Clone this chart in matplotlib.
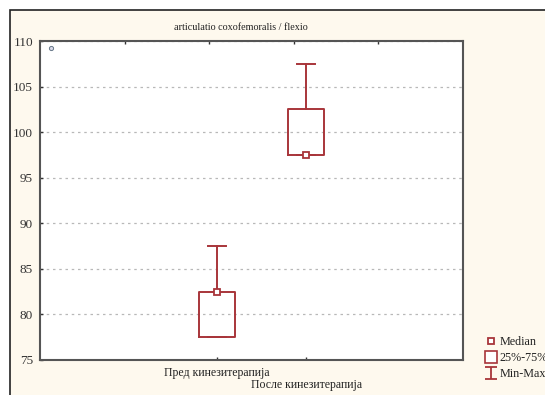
import matplotlib
matplotlib.use("Agg")
import matplotlib.pyplot as plt
from matplotlib.patches import Rectangle
from matplotlib.lines import Line2D
from matplotlib.path import Path

# ---- data ----
categories = ["Пред кинезитерапија", "После кинезитерапија"]
medians = [82.5, 97.5]
q1 = [77.5, 97.5]
q3 = [82.5, 102.5]
mins = [77.5, 97.5]
maxs = [87.5, 107.5]
stray_x = [-0.87]
stray_y = [109.2]
yticks = [75, 80, 85, 90, 95, 100, 105, 110]
title = "articulatio coxofemoralis / flexio"
legend_labels = ["Median", "25%-75%", "Min-Max"]

RED = "#A8353A"
CREAM = "#FEF9EE"
SERIF = ["Liberation Serif", "DejaVu Serif"]

fig = plt.figure(figsize=(5.45, 3.95), dpi=100, facecolor="white")
W, H = 545, 395

# outer cream panel with dark left/top border
panel = Rectangle((10 / W, -0.2), 1.3, 1 - 10 / H + 0.2, transform=fig.transFigure,
                  facecolor=CREAM, edgecolor="#222222", lw=1.2, zorder=-10)
fig.patches.append(panel)

ax = fig.add_axes([40 / W, 1 - 360 / H, (463 - 40) / W, (360 - 41) / H])
ax.set_zorder(1)
ax.set_facecolor("white")

positions = [1, 2]
stats = []
for i in range(len(categories)):
    stats.append(dict(med=medians[i], q1=q1[i], q3=q3[i],
                      whislo=mins[i], whishi=maxs[i], fliers=[]))
ax.bxp(stats, positions=positions, widths=0.40, capwidths=0.2,
       showfliers=False,
       boxprops=dict(color=RED, lw=1.4),
       whiskerprops=dict(color=RED, lw=1.4),
       capprops=dict(color=RED, lw=1.4),
       medianprops=dict(visible=False),
       manage_ticks=False, zorder=3)
ax.plot(positions, medians, ls="none", marker="s", ms=4.5, mfc="white",
        mec=RED, mew=1.3, zorder=4)
ax.plot(stray_x, stray_y, ls="none", marker="o", ms=3, mfc="#d8d8e8",
        mec="#667788", mew=0.7, zorder=4)

x0, x1 = -0.99, 3.76
ax.set_xlim(x0, x1)
ax.set_ylim(75, 110)
ax.set_yticks(yticks)
ax.set_yticklabels([str(v) for v in yticks], fontfamily=SERIF, fontsize=9.5,
                   color="#333333")
ax.set_xticks(positions)
ax.set_xticklabels(["", ""])
ax.tick_params(axis="both", direction="in", length=2, width=1, color="#333333")
ax.tick_params(axis="y", pad=5)
ax.yaxis.grid(True, ls=(0, (2, 3)), color="#b8b8b8", lw=0.9)
ax.set_axisbelow(True)
for s in ax.spines.values():
    s.set_color("#555555")
    s.set_linewidth(1.5)

# staggered category labels
for i, (p, lab) in enumerate(zip(positions, categories)):
    ax.annotate(lab, xy=(p, 0), xycoords=("data", "axes fraction"),
                xytext=(0, -(13 + 12 * i) * 0.72), textcoords="offset points",
                ha="center", va="center", fontfamily=SERIF, fontsize=8.5,
                color="#222222", annotation_clip=False)

# top ticks
sec = ax.secondary_xaxis("top", functions=(lambda x: (x - x0) / (x1 - x0),
                                           lambda f: x0 + f * (x1 - x0)))
sec.set_xticks([0.2, 0.4, 0.6, 0.8])
sec.set_xticklabels([])
sec.tick_params(direction="in", length=2, width=1, color="#333333")
sec.spines["top"].set_visible(False)

fig.text(241 / W, 1 - 27 / H, title, ha="center", va="center",
         fontfamily=SERIF, fontsize=7.3, color="#222222")

# legend
ibar = Path([(-1, 1), (1, 1), (0, 1), (0, -1), (-1, -1), (1, -1)],
            [Path.MOVETO, Path.LINETO, Path.MOVETO, Path.LINETO, Path.MOVETO, Path.LINETO])
handles = [
    Line2D([], [], ls="none", marker="s", ms=4.5, mfc="white", mec=RED, mew=1.3),
    Line2D([], [], ls="none", marker="s", ms=9, mfc="white", mec=RED, mew=1.2),
    Line2D([], [], ls="none", marker=ibar, ms=8, mec=RED, mew=1.3),
]
fig.legend(handles, legend_labels, loc="upper left",
           bbox_to_anchor=(486 / W, 1 - 336 / H), frameon=False,
           prop=dict(family=SERIF, size=8.7), handlelength=0.8,
           handletextpad=0.3, labelspacing=0.35, borderaxespad=0,
           borderpad=0, labelcolor="#222222")

fig.savefig("out.png", dpi=100, facecolor="white")
